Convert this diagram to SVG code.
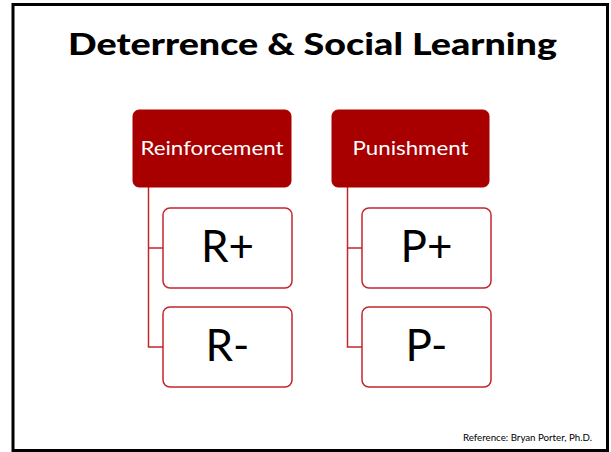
<svg xmlns="http://www.w3.org/2000/svg" width="611" height="452" viewBox="0 0 611 452">
<style>
.title{font-family:Lato,"Liberation Sans",Arial,sans-serif;font-weight:900;font-size:31px;fill:#000}
.head rect{fill:#A80000;stroke:#A80000;stroke-width:1}
.head text{font-family:Lato,"Liberation Sans",Arial,sans-serif;font-size:20px;fill:#fff;text-anchor:middle}
.child rect{fill:#fff;stroke:#C4262E;stroke-width:1.5}
.child text{font-family:Lato,"Liberation Sans",Arial,sans-serif;font-size:44px;fill:#000;text-anchor:middle}
.conn{fill:none;stroke:#C4262E;stroke-width:1.5}
.ref{font-family:Lato,"Liberation Sans",Arial,sans-serif;font-size:9px;fill:#000}
</style>
<rect x="0" y="0" width="611" height="452" fill="#fff"/>
<rect x="13" y="4.5" width="594.5" height="446" fill="none" stroke="#000" stroke-width="3"/>
<text class="title" x="68" y="55" textLength="489" lengthAdjust="spacingAndGlyphs">Deterrence &amp; Social Learning</text>
<g id="connectors">
<path class="conn" d="M148.5,187 V347 H163 M148.5,248 H163"/>
<path class="conn" d="M347.5,187 V347 H362 M347.5,248 H362"/>
</g>
<g id="reinforcement" class="head">
<rect x="133" y="110" width="158" height="77" rx="6"/>
<text x="212" y="155" textLength="143" lengthAdjust="spacingAndGlyphs">Reinforcement</text>
</g>
<g id="punishment" class="head">
<rect x="332" y="110" width="157" height="77" rx="6"/>
<text x="410.5" y="155" textLength="116" lengthAdjust="spacingAndGlyphs">Punishment</text>
</g>
<g id="r-plus" class="child">
<rect x="163" y="208" width="129" height="80" rx="7"/>
<text x="227.5" y="262">R+</text>
</g>
<g id="r-minus" class="child">
<rect x="163" y="307" width="129" height="80" rx="7"/>
<text x="227.5" y="361">R-</text>
</g>
<g id="p-plus" class="child">
<rect x="362" y="208" width="129" height="80" rx="7"/>
<text x="426.5" y="262">P+</text>
</g>
<g id="p-minus" class="child">
<rect x="362" y="307" width="129" height="80" rx="7"/>
<text x="426.5" y="361">P-</text>
</g>
<text class="ref" x="463" y="441" textLength="129" lengthAdjust="spacingAndGlyphs">Reference: Bryan Porter, Ph.D.</text>
</svg>
